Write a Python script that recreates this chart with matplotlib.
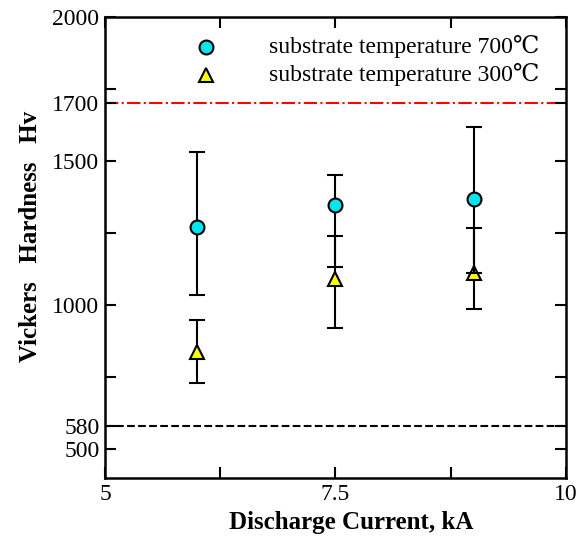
import matplotlib
matplotlib.use("Agg")
import matplotlib.pyplot as plt
from matplotlib.ticker import FixedLocator

plt.rcParams['font.family'] = ['Liberation Serif', 'DejaVu Serif']

# discharge current (kA)
current = [6.0, 7.5, 9.0]

# substrate temperature 700C
hv_700 = [1270, 1349, 1368]
hv_700_low = [1035, 1133, 1113]
hv_700_high = [1531, 1453, 1618]

# substrate temperature 300C
hv_300 = [836, 1092, 1113]
hv_300_low = [728, 919, 987]
hv_300_high = [947, 1239, 1268]

ref_upper = 1700
ref_lower = 580

y_ticks = [500, 580, 1000, 1500, 1700, 2000]
y_minor = [750, 1250, 1750]
x_ticks = [5, 7.5, 10]
x_minor = [6.25, 8.75]

fig = plt.figure(figsize=(5.79, 5.37), dpi=100)
ax = fig.add_axes([0.1813, 0.1099, 0.7962, 0.8584])

ax.axhline(ref_upper, color='red', ls='-.', lw=1.5, zorder=1)
ax.axhline(ref_lower, color='black', ls='--', lw=1.5, zorder=1)

err700 = [[v - l for v, l in zip(hv_700, hv_700_low)],
          [h - v for v, h in zip(hv_700, hv_700_high)]]
err300 = [[v - l for v, l in zip(hv_300, hv_300_low)],
          [h - v for v, h in zip(hv_300, hv_300_high)]]

ax.errorbar(current, hv_300, yerr=err300, fmt='^', color='black', ecolor='black',
            mfc='yellow', mec='black', ms=10, mew=1.5, elinewidth=1.5,
            capsize=6, capthick=1.5, zorder=3)
ax.errorbar(current, hv_700, yerr=err700, fmt='o', color='black', ecolor='black',
            mfc='#00e5ee', mec='black', ms=10, mew=1.5, elinewidth=1.5,
            capsize=6, capthick=1.5, zorder=4)

# legend drawn as markers + text
ax.plot([6.1], [1896], 'o', mfc='#00e5ee', mec='black', ms=10, mew=1.5)
ax.plot([6.1], [1800], '^', mfc='yellow', mec='black', ms=10, mew=1.5)
ax.text(6.78, 1896, 'substrate temperature 700\u2103', fontsize=17, va='center')
ax.text(6.78, 1800, 'substrate temperature 300\u2103', fontsize=17, va='center')

ax.set_xlim(5, 10)
ax.set_ylim(400, 2000)
ax.xaxis.set_major_locator(FixedLocator(x_ticks))
ax.xaxis.set_minor_locator(FixedLocator(x_minor))
ax.yaxis.set_major_locator(FixedLocator(y_ticks))
ax.yaxis.set_minor_locator(FixedLocator(y_minor))
ax.set_xticklabels(['5', '7.5', '10'])
ax.set_yticklabels([str(t) for t in y_ticks])

ax.tick_params(which='both', direction='in', top=True, right=True,
               length=8, width=1.5, labelsize=17, pad=4)
for s in ax.spines.values():
    s.set_linewidth(1.8)

ax.set_xlabel('Discharge Current, kA', fontsize=18, fontweight='bold')
ax.set_ylabel('Vickers   Hardness   Hv', fontsize=18, fontweight='bold')
ax.xaxis.set_label_coords(0.534, -0.072)
ax.yaxis.set_label_coords(-0.137, 0.525)

fig.savefig('out.png', dpi=100)
